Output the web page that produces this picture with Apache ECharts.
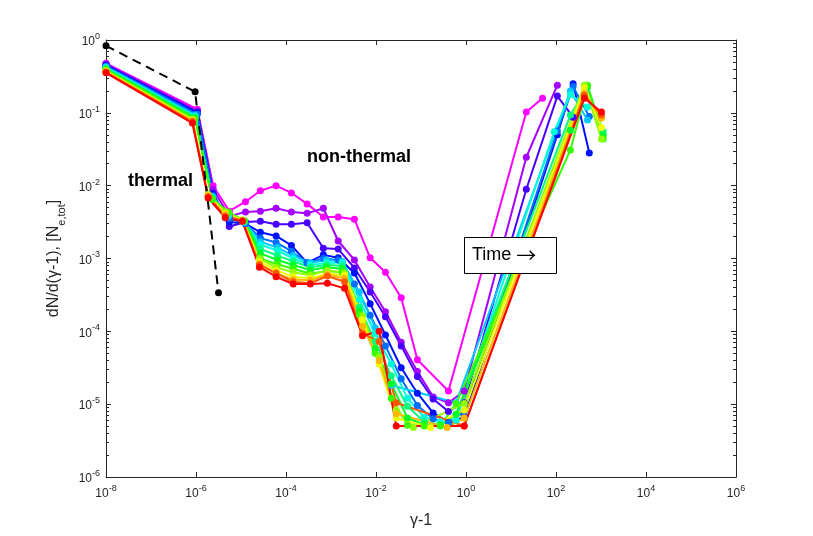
<!doctype html>
<html>
<head>
<meta charset="UTF-8">
<title>dN/d(γ-1)</title>
<script src="https://cdn.jsdelivr.net/npm/echarts@6.0.0/dist/echarts.min.js"></script>
<style>
  html, body { margin: 0; padding: 0; background: #fff; }
  #chart { width: 813px; height: 536px; }
</style>
</head>
<body>
<div id="chart"></div>
<script>
// gamma-1 bins, log10 values (three groups of snapshots, the bins stretch with time)
var logGammaEarly = [-8, -5.97, -5.62, -5.26, -4.90, -4.57, -4.22, -3.88, -3.53, -3.17, -2.84, -2.48, -2.13, -1.79, -1.44, -1.08, -0.73, -0.39, -0.04, 0.30, 0.65, 0.98, 1.34, 1.70, 2.03, 2.38, 2.74];
var logGammaMid   = [-8, -6.02, -5.64, -5.28, -4.93, -4.57, -4.19, -3.84, -3.46, -3.10, -2.75, -2.37, -2.02, -1.66, -1.30, -0.93, -0.57, -0.22, 0.16, 0.52, 0.87, 1.25, 1.61, 1.96, 2.32, 2.70, 3.05];
var logGammaLate  = [-8, -6.08, -5.73, -5.35, -4.97, -4.59, -4.22, -3.84, -3.46, -3.08, -2.70, -2.30, -1.93, -1.55, -1.17, -0.79, -0.42, -0.04, 0.34, 0.72, 1.10, 1.47, 1.85, 2.23, 2.63, 3.01];

// log10 dN/d(gamma-1) per snapshot, null = empty bin
var logN = [
  [-0.32, -0.95, -2.00, -2.35, -2.22, -2.07, -2.00, -2.10, -2.25, -2.43, -2.43, -2.46, -2.99, -3.19, -3.54, -4.39, null, -4.82, null, null, null, null, -0.99, -0.80, null, null, null],
  [-0.33, -0.97, -2.05, -2.42, -2.36, -2.35, -2.31, -2.36, -2.38, -2.31, -2.76, -3.02, -3.39, -3.73, -4.15, -4.55, -4.90, -4.98, -4.82, null, null, null, -1.61, null, -0.62, null, null],
  [-0.34, -0.99, -2.10, -2.56, -2.50, -2.49, -2.53, -2.53, -2.51, -2.86, -2.87, -3.13, -3.46, -3.80, -4.20, -4.62, -4.93, -5.10, -4.98, null, null, null, -2.05, null, -0.77, -1.06, null],
  [-0.35, -1.00, -2.12, -2.50, -2.52, -2.64, -2.69, -2.82, -3.06, -2.95, -2.99, -3.20, -3.62, -4.05, -4.50, -4.85, -5.12, -5.25, -5.18, null, null, null, null, null, -1.30, -0.60, -1.55],
  [-0.36, -1.02, -2.14, -2.45, -2.52, -2.72, -2.78, -2.90, -3.06, -3.00, -3.02, -3.35, -3.78, -4.20, -4.65, -5.02, -5.20, -5.26, -5.10, null, null, null, null, null, -1.25, -0.64, -1.05],
  [-0.37, -1.03, -2.15, -2.42, -2.50, -2.77, -2.85, -2.96, -3.06, -3.02, -3.04, -3.46, -3.95, -4.74, null, null, null, -4.98, null, null, null, null, null, null, -0.70, -1.10, null],
  [-0.38, -1.05, -2.16, -2.40, -2.50, -2.81, -2.89, -3.00, -3.09, -3.06, -3.06, -3.56, -4.03, -4.45, -4.92, -5.18, -5.24, -5.22, null, null, null, null, null, -1.26, -0.75, -0.92, null],
  [-0.39, -1.06, -2.17, -2.38, -2.49, -2.87, -2.96, -3.04, -3.12, -3.09, -3.10, -3.67, -4.14, -4.61, -5.03, -5.24, -5.28, -5.14, null, null, null, null, null, null, -1.03, -0.65, -1.26],
  [-0.40, -1.07, -2.18, -2.37, -2.48, -2.93, -3.02, -3.09, -3.16, -3.12, -3.14, -3.72, -4.24, -4.72, -5.19, -5.28, -5.29, -5.14, null, null, null, null, null, null, -1.24, -0.63, -1.31],
  [-0.41, -1.08, -2.19, -2.36, -2.48, -3.00, -3.08, -3.14, -3.21, -3.17, -3.19, -3.77, -4.30, -4.92, -5.29, -5.30, -5.30, -4.99, null, null, null, null, null, null, -1.51, -0.62, -1.36],
  [-0.42, -1.09, -2.12, -2.36, -2.47, -3.00, -3.12, -3.19, -3.23, -3.16, -3.20, -3.79, -4.35, -5.08, -5.32, null, null, -4.99, null, null, null, null, null, null, -0.62, -1.36],
  [-0.43, -1.10, -2.13, -2.38, -2.47, -3.04, -3.16, -3.25, -3.27, -3.21, -3.23, -3.84, -4.45, -5.19, null, -5.32, null, -5.08, null, null, null, null, null, null, -0.66, -1.20],
  [-0.44, -1.11, -2.14, -2.40, -2.48, -3.07, -3.20, -3.29, -3.30, -3.22, -3.27, -3.93, -4.40, -5.13, null, null, -5.32, -5.19, null, null, null, null, null, null, -0.73, -1.07],
  [-0.44, -1.12, -2.15, -2.42, -2.48, -3.09, -3.20, -3.32, -3.34, -3.24, -3.32, -4.03, -4.14, -4.98, null, null, null, -5.30, null, null, null, null, null, null, -0.76, -1.03],
  [-0.45, -1.14, -2.17, -2.44, -2.49, -3.12, -3.25, -3.35, -3.35, -3.34, -3.41, -4.06, -4.00, -5.30, null, null, null, -5.30, null, null, null, null, null, null, -0.80, -0.99]
];
var curveGrid = [0, 0, 0, 0, 0, 1, 1, 1, 1, 1, 2, 2, 2, 2, 2];
var curveColors = ['#ff00ff', '#a600ff', '#4800ff', '#0011ff', '#006eff', '#00c8ff', '#00ffd9', '#00ff80',
                   '#00ff26', '#37ff00', '#91ff00', '#eeff00', '#ffb700', '#ff5900', '#ff0000'];

// thermal (Maxwellian) reference, dashed black
var logGammaThermal = [-8, -6.02, -5.50];
var logNThermal = [-0.08, -0.71, -3.47];

var xTickExp = [-8, -6, -4, -2, 0, 2, 4, 6];
var yTickExp = [-6, -5, -4, -3, -2, -1, 0];

var gammaGrids = [logGammaEarly, logGammaMid, logGammaLate];
var axisColor = '#262626';
var font = '"Liberation Sans", Arial, sans-serif';

function toPoints(xs, ys) {
	var pts = [];
	for (var k = 0; k < ys.length; k++) {
		if (ys[k] !== null) pts.push([Math.pow(10, xs[k]), Math.pow(10, ys[k])]);
	}
	return pts;
}

function powLabel(v) {
	var e = Math.round(Math.log10(v));
	return '{b|10}{s|' + e + '}';
}

var tickRich = {
	b: {fontSize: 12, fontFamily: font, color: axisColor, verticalAlign: 'bottom', lineHeight: 16},
	s: {fontSize: 9, fontFamily: font, color: axisColor, verticalAlign: 'top', lineHeight: 16}
};

// minor ticks of the y axis at 2..9 x 10^d, drawn on an overlaid exponent axis
var minorTicks = [];
for (var d = yTickExp[0]; d < yTickExp[yTickExp.length - 1]; d++) {
	for (var n = 2; n <= 9; n++) minorTicks.push(d + Math.log10(n));
}

var series = [];
for (var i = 0; i < logN.length; i++) {
	series.push({
		type: 'line',
		xAxisIndex: 0,
		yAxisIndex: 0,
		data: toPoints(gammaGrids[curveGrid[i]], logN[i]),
		symbol: 'circle',
		symbolSize: 7,
		showAllSymbol: true,
		lineStyle: {width: 2, color: curveColors[i]},
		itemStyle: {color: curveColors[i]}
	});
}
series.push({
	type: 'line',
	xAxisIndex: 0,
	yAxisIndex: 0,
	data: toPoints(logGammaThermal, logNThermal),
	symbol: 'circle',
	symbolSize: 7,
	lineStyle: {width: 2, color: '#000', type: [9, 6]},
	itemStyle: {color: '#000'}
});

var logX = {
	type: 'log', logBase: 10, gridIndex: 0,
	min: Math.pow(10, xTickExp[0]), max: Math.pow(10, xTickExp[xTickExp.length - 1]),
	interval: 2,
	splitLine: {show: false},
	axisLine: {show: true, onZero: false, lineStyle: {color: axisColor, width: 1}},
	axisTick: {show: true, inside: true, length: 5, lineStyle: {color: axisColor}},
	minorTick: {show: false}
};
var logY = {
	type: 'log', logBase: 10, gridIndex: 0,
	min: Math.pow(10, yTickExp[0]), max: Math.pow(10, yTickExp[yTickExp.length - 1]),
	splitNumber: 6,
	splitLine: {show: false},
	axisLine: {show: true, onZero: false, lineStyle: {color: axisColor, width: 1}},
	axisTick: {show: true, inside: true, length: 5, lineStyle: {color: axisColor}},
	minorTick: {show: false}
};
var minorY = {
	type: 'value', gridIndex: 1, min: yTickExp[0], max: yTickExp[yTickExp.length - 1],
	splitLine: {show: false},
	axisLabel: {show: false},
	axisLine: {show: false, onZero: false},
	axisTick: {show: true, inside: true, length: 3, customValues: minorTicks, lineStyle: {color: axisColor}}
};

var option = {
	animation: false,
	backgroundColor: '#fff',
	grid: [
		{left: 106, right: 77, top: 40, bottom: 59},
		{left: 106, right: 77, top: 40, bottom: 59}
	],
	xAxis: [
		echarts.util.merge({
			position: 'bottom',
			name: 'γ-1',
			nameLocation: 'middle',
			nameGap: 36,
			nameTextStyle: {fontSize: 16, fontFamily: font, color: axisColor},
			axisLabel: {formatter: powLabel, rich: tickRich, margin: 7}
		}, logX),
		echarts.util.merge({position: 'top', axisLabel: {show: false}}, logX),
		{type: 'value', gridIndex: 1, min: 0, max: 1, show: false}
	],
	yAxis: [
		echarts.util.merge({
			position: 'left',
			name: '{a|dN/d(γ-1), [N}{b|e,tot}{a|]}',
			nameLocation: 'middle',
			nameRotate: 90,
			nameGap: 36,
			nameTextStyle: {
				rich: {
					a: {fontSize: 16, fontFamily: font, color: axisColor, verticalAlign: 'top', lineHeight: 22},
					b: {fontSize: 11, fontFamily: font, color: axisColor, verticalAlign: 'bottom', lineHeight: 22}
				}
			},
			axisLabel: {formatter: powLabel, rich: tickRich, margin: 6}
		}, logY),
		echarts.util.merge({position: 'right', axisLabel: {show: false}}, logY),
		echarts.util.merge({position: 'left'}, minorY),
		echarts.util.merge({position: 'right'}, minorY)
	],
	series: series,
	graphic: [
		{type: 'text', left: 128, top: 172, z: 100,
			style: {text: 'thermal', font: 'bold 18px ' + font, fill: '#000'}},
		{type: 'text', left: 307, top: 148, z: 100,
			style: {text: 'non-thermal', font: 'bold 18px ' + font, fill: '#000'}},
		{type: 'rect', z: 100, shape: {x: 464.5, y: 237.5, width: 92, height: 36},
			style: {fill: '#fff', stroke: '#000', lineWidth: 1}},
		{type: 'text', left: 472, top: 245, z: 101,
			style: {
				text: '{t|Time }{a|→}',
				rich: {
					t: {fontSize: 18, fontFamily: font, fill: '#000', lineHeight: 20},
					a: {fontSize: 20, fontFamily: '"Noto Sans CJK SC"', fill: '#000', lineHeight: 20}
				}
			}}
	]
};

var chart = echarts.init(document.getElementById('chart'));
chart.setOption(option);
</script>
</body>
</html>
